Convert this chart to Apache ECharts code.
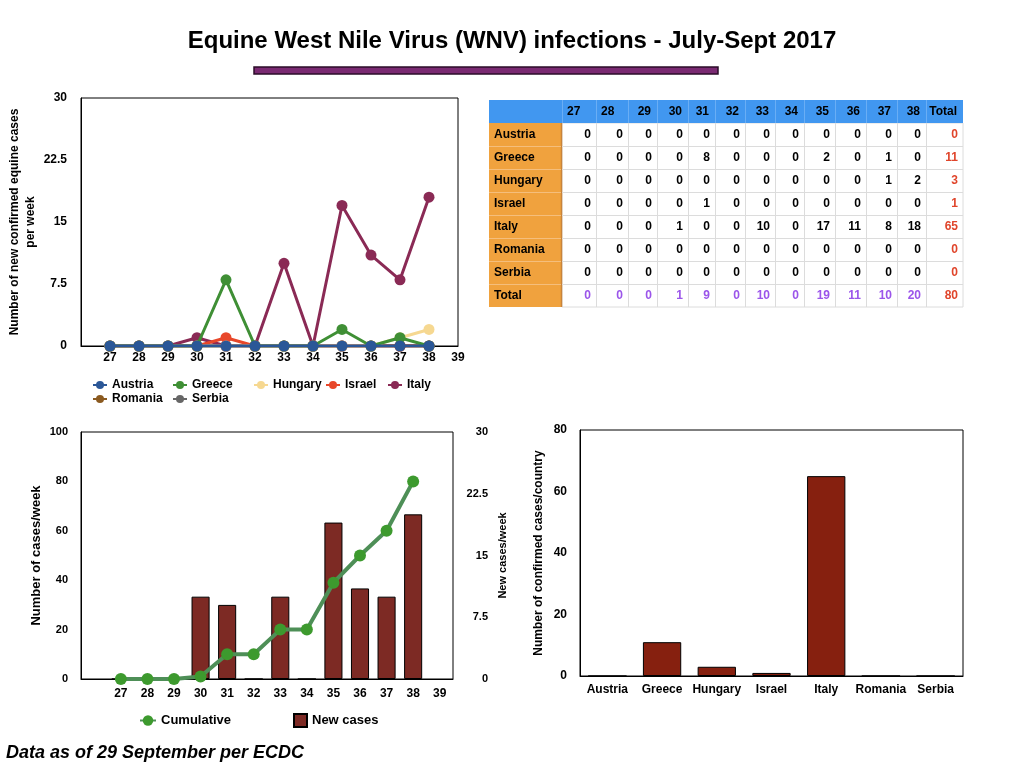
<!DOCTYPE html>
<html><head><meta charset="utf-8">
<script src="https://cdn.jsdelivr.net/npm/echarts@6/dist/echarts.min.js"></script>
<style>html,body{margin:0;padding:0;background:#fff}#c{width:1024px;height:768px}</style>
</head><body><div id="c"></div>
<script>
// ---------- data ----------
const weeks = ['27','28','29','30','31','32','33','34','35','36','37','38','39'];
const dataWeeks = ['27','28','29','30','31','32','33','34','35','36','37','38'];
const countries = ['Austria','Greece','Hungary','Israel','Italy','Romania','Serbia'];
const austria = [0,0,0,0,0,0,0,0,0,0,0,0];
const greece  = [0,0,0,0,8,0,0,0,2,0,1,0];
const hungary = [0,0,0,0,0,0,0,0,0,0,1,2];
const israel  = [0,0,0,0,1,0,0,0,0,0,0,0];
const italy   = [0,0,0,1,0,0,10,0,17,11,8,18];
const romania = [0,0,0,0,0,0,0,0,0,0,0,0];
const serbia  = [0,0,0,0,0,0,0,0,0,0,0,0];
const weeklyTotals  = [0,0,0,1,9,0,10,0,19,11,10,20];
const countryTotals = [0,11,3,1,65,0,0];
const grandTotal = 80;
// as drawn in the combo chart
const newCasesBars = [0,0,0,10,9,0,10,0,19,11,10,20];
const cumulative = [0,0,0,1,10,10,20,20,39,50,60,80];

// ---------- styling ----------
const FONT = '"Liberation Sans", Arial, Helvetica, sans-serif';
const countryColors = ['#2b5797','#3f8f35','#f6d891','#e8472a','#8a2a55','#8b5a20','#666666'];
const countryValues = [austria, greece, hungary, israel, italy, romania, serbia];
const bold = (size) => ({fontFamily: FONT, fontWeight: 'bold', fontSize: size, color: '#000'});

const cats = [''].concat(weeks);

const lineSeries = countries.map((name, i) => ({
  type: 'line', name: name, xAxisIndex: 0, yAxisIndex: 0,
  data: [null].concat(countryValues[i]),
  symbol: 'circle', symbolSize: 11,
  z: 2 + (countries.length - i),
  lineStyle: {color: countryColors[i], width: 3},
  itemStyle: {color: countryColors[i]},
  emphasis: {disabled: true}
}));

const legendPos = [
  ['Austria', 92, 379], ['Greece', 172, 379], ['Hungary', 253, 379], ['Israel', 325, 379], ['Italy', 387, 379],
  ['Romania', 92, 393], ['Serbia', 172, 393]
];
const legends = legendPos.map(p => ({
  data: [p[0]], left: p[1], top: p[2], padding: 0, itemWidth: 14, itemHeight: 10,
  textStyle: bold(12), selectedMode: false
}));
legends.push({data: ['Cumulative'], left: 139, top: 714, padding: 0, itemWidth: 16, itemHeight: 13, textStyle: bold(13), selectedMode: false});
legends.push({data: [{name: 'New cases', icon: 'rect'}], left: 293, top: 713, padding: 0, itemWidth: 13, itemHeight: 13, textStyle: bold(13), selectedMode: false});

// ---------- table (graphic) ----------
const colEdges = [489,562,596,628,657,688,715,745,775,804,835,866,897,926,963];
const tableTop = 100, rowH = 23;
const headerCells = [''].concat(dataWeeks, ['Total']);
const bodyRows = countries.map((c, i) => [c].concat(countryValues[i], [countryTotals[i]]));
bodyRows.push(['Total'].concat(weeklyTotals, [grandTotal]));
const nRows = bodyRows.length + 1;
const tableBottom = tableTop + rowH * nRows;
const tableEls = [];
tableEls.push({type:'rect', shape:{x:colEdges[1], y:tableTop+rowH, width:colEdges[14]-colEdges[1], height:rowH*bodyRows.length}, style:{fill:'#fff', stroke:'#dcdcdc', lineWidth:1}});
tableEls.push({type:'rect', shape:{x:colEdges[0], y:tableTop, width:colEdges[14]-colEdges[0], height:rowH}, style:{fill:'#4197f0'}});
tableEls.push({type:'rect', shape:{x:colEdges[0], y:tableTop+rowH, width:colEdges[1]-colEdges[0], height:rowH*bodyRows.length}, style:{fill:'#f0a23e'}});
tableEls.push({type:'line', shape:{x1:colEdges[1]-0.5, y1:tableTop+rowH, x2:colEdges[1]-0.5, y2:tableBottom}, style:{stroke:'#c9843a', lineWidth:1.5}});
for (let c = 2; c < colEdges.length - 1; c++) {
  tableEls.push({type:'line', shape:{x1:colEdges[c]+0.5, y1:tableTop+rowH, x2:colEdges[c]+0.5, y2:tableBottom}, style:{stroke:'#dcdcdc', lineWidth:1}});
  tableEls.push({type:'line', shape:{x1:colEdges[c]+0.5, y1:tableTop, x2:colEdges[c]+0.5, y2:tableTop+rowH}, style:{stroke:'#6aaef5', lineWidth:1}});
}
tableEls.push({type:'line', shape:{x1:colEdges[1]+0.5, y1:tableTop, x2:colEdges[1]+0.5, y2:tableTop+rowH}, style:{stroke:'#6aaef5', lineWidth:1}});
for (let r = 2; r < nRows; r++) {
  const y = tableTop + rowH * r + 0.5;
  tableEls.push({type:'line', shape:{x1:colEdges[1], y1:y, x2:colEdges[14], y2:y}, style:{stroke:'#dcdcdc', lineWidth:1}});
  tableEls.push({type:'line', shape:{x1:colEdges[0], y1:y, x2:colEdges[1]-1, y2:y}, style:{stroke:'#f5be7c', lineWidth:1}});
}
headerCells.forEach((t, c) => {
  if (c === 0) return;
  const leftAlign = (t === '27' || t === '28');
  tableEls.push({type:'text', x: leftAlign ? colEdges[c] + 5 : colEdges[c+1] - 6, y: tableTop + rowH/2,
    style:{text:t, align: leftAlign ? 'left' : 'right', verticalAlign:'middle', fontFamily:FONT, fontWeight:'bold', fontSize:12, fill:'#000'}});
});
bodyRows.forEach((row, r) => {
  const isTotalRow = r === bodyRows.length - 1;
  row.forEach((v, c) => {
    const y = tableTop + rowH * (r + 1) + rowH/2;
    let fill = '#000';
    if (c === row.length - 1) fill = '#e0452b';
    else if (isTotalRow && c > 0) fill = '#9b55ea';
    tableEls.push({type:'text', x: c === 0 ? colEdges[0] + 5 : colEdges[c+1] - 5, y: y,
      style:{text:String(v), align: c === 0 ? 'left' : 'right', verticalAlign:'middle', fontFamily:FONT, fontWeight:'bold', fontSize:12, fill:fill}});
  });
});

const graphics = [
  {type:'text', x:512, y:41, style:{text:'Equine West Nile Virus (WNV) infections - July-Sept 2017', align:'center', verticalAlign:'middle', fontFamily:FONT, fontWeight:'bold', fontSize:24, fill:'#000'}},
  {type:'rect', shape:{x:254, y:67, width:464, height:7}, style:{fill:'#7a2a72', stroke:'#2b0d28', lineWidth:1.5}},
  {type:'text', x:6, y:753, style:{text:'Data as of 29 September per ECDC', align:'left', verticalAlign:'middle', fontFamily:FONT, fontWeight:'bold', fontStyle:'italic', fontSize:18, fill:'#000'}}
].concat(tableEls);

const axisLineBlack = {show: true, lineStyle: {color: '#000', width: 1}};

const option = {
  animation: false,
  textStyle: {fontFamily: FONT},
  graphic: graphics,
  legend: legends,
  grid: [
    {left: 81, top: 98, width: 377, height: 248, show: true, borderColor: '#000', borderWidth: 1, backgroundColor: 'transparent'},
    {left: 81, top: 432, width: 372, height: 247, show: true, borderColor: '#000', borderWidth: 1, backgroundColor: 'transparent'},
    {left: 580, top: 430, width: 383, height: 246, show: true, borderColor: '#000', borderWidth: 1, backgroundColor: 'transparent'}
  ],
  xAxis: [
    {gridIndex: 0, type: 'category', data: cats, boundaryGap: false, axisLine: axisLineBlack, axisTick: {show: false},
     axisLabel: Object.assign({interval: 0, margin: 6}, bold(12)), splitLine: {show: false}},
    {gridIndex: 1, type: 'category', data: cats, boundaryGap: true, axisLine: axisLineBlack, axisTick: {show: false},
     axisLabel: Object.assign({interval: 0, margin: 9}, bold(12)), splitLine: {show: false}},
    {gridIndex: 2, type: 'category', data: countries, boundaryGap: true, axisLine: axisLineBlack, axisTick: {show: false},
     axisLabel: Object.assign({interval: 0, margin: 8}, bold(12)), splitLine: {show: false}}
  ],
  yAxis: [
    {gridIndex: 0, type: 'value', min: 0, max: 30, interval: 7.5, axisLine: axisLineBlack, axisTick: {show: false}, splitLine: {show: false},
     axisLabel: Object.assign({margin: 14}, bold(12)),
     name: 'Number of new confirmed equine cases\nper week', nameLocation: 'middle', nameRotate: 90, nameGap: 42,
     nameTextStyle: Object.assign({lineHeight: 16}, bold(12))},
    {gridIndex: 1, type: 'value', min: 0, max: 100, interval: 20, axisLine: axisLineBlack, axisTick: {show: false}, splitLine: {show: false},
     axisLabel: Object.assign({margin: 13}, bold(11)),
     name: 'Number of cases/week', nameLocation: 'middle', nameRotate: 90, nameGap: 38, nameTextStyle: bold(13)},
    {gridIndex: 1, type: 'value', position: 'right', min: 0, max: 30, interval: 7.5, axisLine: {show: false}, axisTick: {show: false}, splitLine: {show: false},
     axisLabel: Object.assign({margin: 35, align: 'right'}, bold(11)),
     name: 'New cases/week', nameLocation: 'middle', nameRotate: 90, nameGap: 44, nameTextStyle: bold(11)},
    {gridIndex: 2, type: 'value', min: 0, max: 80, interval: 20, axisLine: axisLineBlack, axisTick: {show: false}, splitLine: {show: false},
     axisLabel: Object.assign({margin: 13}, bold(12)),
     name: 'Number of confirmed cases/country', nameLocation: 'middle', nameRotate: 90, nameGap: 35, nameTextStyle: bold(12)}
  ],
  series: lineSeries.concat([
    {type: 'bar', name: 'New cases', xAxisIndex: 1, yAxisIndex: 2, data: [null].concat(newCasesBars), barWidth: '68%',
     itemStyle: {color: '#7d2a24', borderColor: '#000', borderWidth: 1}, emphasis: {disabled: true}, z: 2},
    {type: 'line', name: 'Cumulative', xAxisIndex: 1, yAxisIndex: 1, data: [null].concat(cumulative),
     symbol: 'circle', symbolSize: 12, lineStyle: {color: '#4e8f57', width: 4}, itemStyle: {color: '#3d9a2e'},
     emphasis: {disabled: true}, z: 5},
    {type: 'bar', name: 'Totals', xAxisIndex: 2, yAxisIndex: 3, data: countryTotals, barWidth: '70%',
     itemStyle: {color: '#86200f', borderColor: '#000', borderWidth: 1}, emphasis: {disabled: true}}
  ])
};

const chart = echarts.init(document.getElementById('c'));
chart.setOption(option);
</script>
</body></html>
